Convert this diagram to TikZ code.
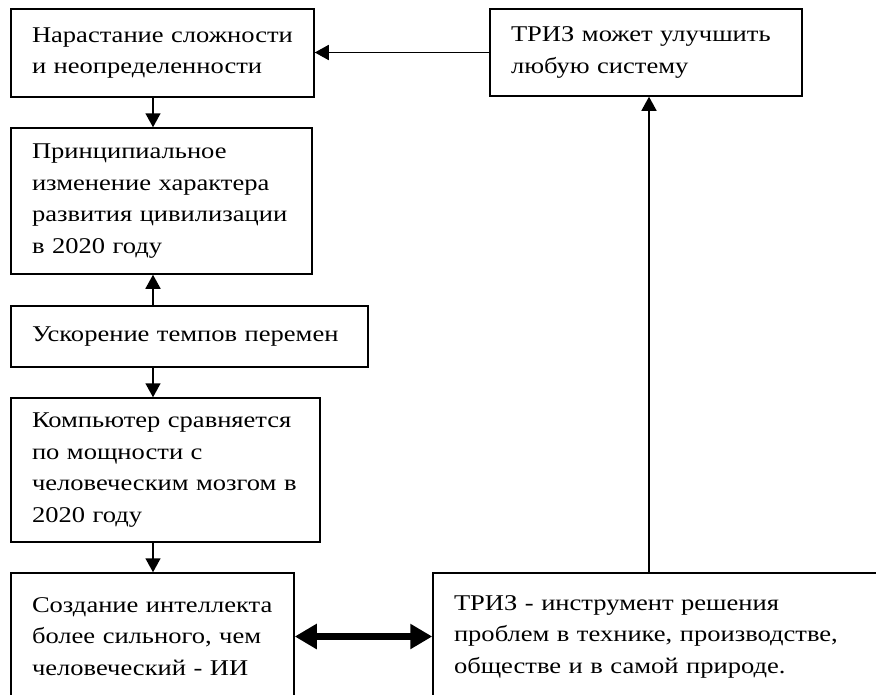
\documentclass[tikz,border=0pt]{standalone}
\usepackage{fontspec}
\setmainfont[FakeStretch=1.18]{Liberation Serif}
\usetikzlibrary{arrows.meta}
\begin{document}
\begin{tikzpicture}[x=1pt,y=-1pt,
  box/.style={draw,line width=1.5pt,rectangle,inner xsep=21pt,inner ysep=0pt,
    align=left,font=\fontsize{22.5}{31.5}\selectfont},
  arr/.style={line width=1.5pt,-{Triangle[length=14pt,width=15pt]}},
  dbl/.style={line width=7pt,{Triangle[length=22pt,width=24pt]}-{Triangle[length=22pt,width=24pt]}}]
\useasboundingbox (0,0) rectangle (876,694);
\clip (0,0) rectangle (876,694);
\node[box,minimum width=303pt,minimum height=88pt,text width=261pt] (b1) at (162.5,53) {Нарастание сложности\\и неопределенности};
\node[box,minimum width=301pt,minimum height=146pt,text width=259pt] (b2) at (161.5,201) {Принципиальное\\изменение характера\\развития цивилизации\\в 2020 году};
\node[box,minimum width=357pt,minimum height=61pt,text width=315pt] (b3) at (189.5,336.5) {Ускорение темпов перемен};
\node[box,minimum width=309pt,minimum height=144pt,text width=267pt] (b4) at (165.5,470) {Компьютер сравняется\\по мощности с\\человеческим мозгом в\\2020 году};
\node[box,minimum width=283pt,minimum height=127pt,text width=241pt] (b5) at (152.5,636.5) {Создание интеллекта\\более сильного, чем\\человеческий - ИИ};
\node[box,minimum width=457pt,minimum height=127pt,text width=415pt] (b6) at (661.5,636.5) {ТРИЗ - инструмент решения\\проблем в технике, производстве,\\обществе и в самой природе.};
\node[box,minimum width=312pt,minimum height=87pt,text width=270pt] (b7) at (646,52.5) {ТРИЗ может улучшить\\любую систему};
\coordinate (c1) at (153,0);
\draw[arr] (b1.south -| c1) -- (b2.north -| c1);
\draw[arr] (b3.north -| c1) -- (b2.south -| c1);
\draw[arr] (b3.south -| c1) -- (b4.north -| c1);
\draw[arr] (b4.south -| c1) -- (b5.north -| c1);
\draw[arr] (b7.west) -- (b7.west -| b1.east);
\coordinate (c2) at (649,0);
\draw[arr] (b6.north -| c2) -- (b7.south -| c2);
\draw[dbl] (b5.east) -- (b6.west);
\end{tikzpicture}
\end{document}
